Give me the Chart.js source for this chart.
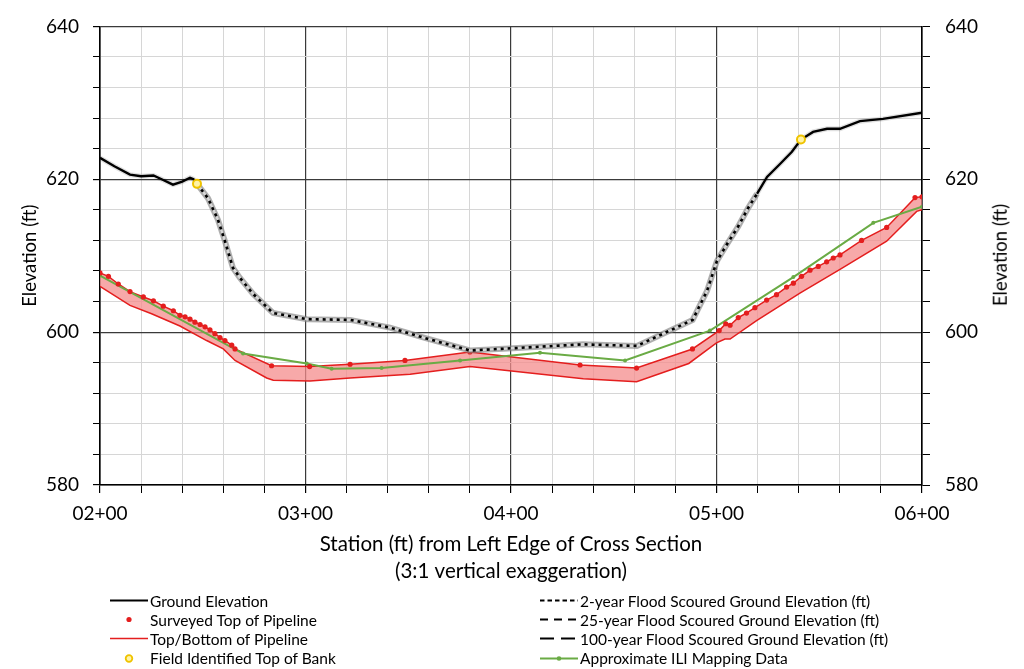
<!DOCTYPE html>
<html>
<head>
<meta charset="utf-8">
<script src="https://cdn.jsdelivr.net/npm/chart.js@4.4.1/dist/chart.umd.min.js"></script>
<style>
  html, body { margin: 0; padding: 0; background: #fff; }
  #wrap { position: relative; width: 1024px; height: 669px; overflow: hidden; font-family: Lato, "Open Sans", sans-serif; }
  #c { position: absolute; left: 0; top: 0; }
  .lg { position: absolute; height: 19px; display: flex; align-items: center; font-size: 15.5px; color: #000; white-space: nowrap; }
  .lg svg { flex: none; }
  #rtitle { position: absolute; left: 1000px; top: 255px; width: 0; height: 0; }
  #rtitle span { position: absolute; transform: translate(-50%, -50%) rotate(-90deg); white-space: nowrap; font-size: 18.5px; color: #000; line-height: 1; }
</style>
</head>
<body>
<div id="wrap">
  <canvas id="c" width="1024" height="669"></canvas>
  <div id="rtitle"><span id="rtitleText"></span></div>
  <div id="legend"></div>
</div>
<script>
// ---------- DATA ----------
const groundStations = [200, 207, 214.6, 220, 226, 230, 235.5, 240, 243.8, 245.5, 247.2,
  252.6, 257.4, 260.8, 264.7, 268.1, 274.5, 284.2, 300.7, 321.7, 341.1, 357.2, 380.0, 401.0, 435.0, 461.3,
  488.4, 495.4, 500.2, 505.1, 510.5, 515.3, 519.7, 524.6, 530.9, 536.7, 541.1,
  547, 553.8, 560.1, 569.8, 581.0, 600];
const groundElev = [622.8, 621.7, 620.6, 620.4, 620.5, 620.0, 619.3, 619.7, 620.2, 620.0, 619.4,
  617.5, 614.7, 611.9, 608.4, 607.1, 605.0, 602.5, 601.7, 601.6, 600.6, 599.3, 597.6, 597.9, 598.4, 598.2,
  601.6, 605.4, 609.3, 611.5, 613.8, 616.2, 618.1, 620.3, 622.0, 623.6, 625.2,
  626.2, 626.6, 626.6, 627.6, 627.9, 628.7];

const scourStations = [247.2, 252.6, 257.4, 260.8, 264.7, 268.1, 274.5, 284.2, 300.7, 321.7, 341.1, 357.2,
  380.0, 401.0, 435.0, 461.3, 488.4, 495.4, 500.2, 505.1, 510.5, 515.3, 519.7];
const scour2yr = [619.4, 617.5, 614.7, 611.9, 608.4, 607.1, 605.0, 602.5, 601.7, 601.6, 600.6, 599.3,
  597.6, 597.9, 598.4, 598.2, 601.6, 605.4, 609.3, 611.5, 613.8, 616.2, 618.1];
const scour25yr = [619.4, 617.5, 614.7, 611.9, 608.4, 607.1, 605.0, 602.5, 601.7, 601.6, 600.6, 599.3,
  597.6, 597.9, 598.4, 598.2, 601.6, 605.4, 609.3, 611.5, 613.8, 616.2, 618.1];
const scour100yr = [619.4, 617.5, 614.7, 611.9, 608.4, 607.1, 605.0, 602.5, 601.7, 601.6, 600.6, 599.3,
  597.6, 597.9, 598.4, 598.2, 601.6, 605.4, 609.3, 611.5, 613.8, 616.2, 618.1];

const surveyStations = [200, 204.1, 208.9, 214.6, 221.1, 226.0, 230.8, 235.7, 238.9, 241.4, 243.8, 246.2,
  248.7, 251.1, 253.5, 255.9, 258.4, 260.8, 264.1, 265.7, 283.5, 302.0, 321.7, 348.4, 380.0, 433.6, 461.1,
  488.3, 501.3, 504.5, 506.6, 510.6, 514.6, 518.7, 524.4, 529.2, 534.1, 537.4, 541.4, 545.5, 549.5, 553.6,
  556.8, 560.1, 570.6, 582.8, 596.6, 600];
const surveyTop = [607.75, 607.3, 606.3, 605.3, 604.6, 604.1, 603.4, 602.8, 602.2, 602.0, 601.7, 601.3,
  601.0, 600.7, 600.3, 599.8, 599.3, 598.9, 598.3, 597.8, 595.6, 595.5, 595.8, 596.3, 597.4, 595.7, 595.3,
  597.8, 600.2, 601.1, 600.9, 601.9, 602.5, 603.2, 604.2, 604.9, 605.9, 606.4, 607.3, 608.1, 608.6, 609.2,
  609.7, 610.1, 612.0, 613.7, 617.6, 617.7];

const bottomStations = [200, 214.6, 225.1, 238.9, 251.9, 260.0, 265.7, 281.1, 284.3, 302.2, 321.7, 350.9,
  380.0, 435.2, 461.1, 486.5, 500.0, 504.1, 506.6, 519.5, 540.6, 560.1, 582.8, 597.4, 600];
const bottomElev = [606.0, 603.5, 602.4, 600.8, 598.9, 597.8, 596.3, 594.0, 593.7, 593.6, 594.0, 594.5,
  595.5, 593.9, 593.5, 595.9, 598.6, 599.1, 599.1, 601.5, 605.1, 608.2, 611.9, 615.8, 616.0];

const bankStations = [247.2, 541.1];
const bankElev = [619.4, 625.2];

const iliStations = [200, 269.6, 300.6, 312.7, 337.0, 375.2, 414.1, 455.5, 496.8, 537.4, 576.3, 600];
const iliElev = [607.4, 597.2, 595.9, 595.2, 595.3, 596.3, 597.3, 596.3, 600.2, 607.2, 614.3, 616.4];

const xTitle = ['Station (ft) from Left Edge of Cross Section', '(3:1 vertical exaggeration)'];
const yTitle = 'Elevation (ft)';
const labels = {
  ground: 'Ground Elevation',
  survey: 'Surveyed Top of Pipeline',
  pipe: 'Top/Bottom of Pipeline',
  bank: 'Field Identified Top of Bank',
  s2: '2-year Flood Scoured Ground Elevation (ft)',
  s25: '25-year Flood Scoured Ground Elevation (ft)',
  s100: '100-year Flood Scoured Ground Elevation (ft)',
  ili: 'Approximate ILI Mapping Data'
};

// ---------- helpers ----------
const pts = (xs, ys) => xs.map((x, i) => ({ x: x, y: ys[i] }));
const fmtStation = v => String(Math.floor(v / 100)).padStart(2, '0') + '+' + String(v % 100).padStart(2, '0');

Chart.defaults.font.family = 'Lato, "Open Sans", sans-serif';
Chart.defaults.color = '#000';

const RED = '#e41e1e';
const datasets = [
  { key: 'bank', label: labels.bank, data: pts(bankStations, bankElev), showLine: false,
    pointRadius: 4, pointBorderWidth: 2, pointBorderColor: '#efc300', pointBackgroundColor: '#fff3a6', order: 0 },
  { key: 's2', label: labels.s2, data: pts(scourStations, scour2yr), borderColor: '#000', borderWidth: 2.6,
    borderDash: [3, 4], pointRadius: 0, order: 1 },
  { key: 's25', label: labels.s25, data: pts(scourStations, scour25yr), borderColor: '#d8d8d8', borderWidth: 2.6,
    pointRadius: 0, order: 2 },
  { key: 's100', label: labels.s100, data: pts(scourStations, scour100yr), borderColor: 'rgba(135,135,135,0.6)', borderWidth: 6,
    pointRadius: 0, order: 3 },
  { key: 'ground', label: labels.ground, data: pts(groundStations, groundElev), borderColor: '#000', borderWidth: 2.4,
    pointRadius: 0, order: 4 },
  { key: 'groundShadow', label: 'shadow', data: pts(groundStations, groundElev), borderColor: 'rgba(0,0,0,0.12)', borderWidth: 5,
    pointRadius: 0, order: 4.5 },
  { key: 'survey', label: labels.survey, data: pts(surveyStations, surveyTop), showLine: false,
    pointRadius: 2.6, pointBorderWidth: 0, pointBackgroundColor: RED, order: 5 },
  { key: 'ili', label: labels.ili, data: pts(iliStations, iliElev), borderColor: '#6aab45', borderWidth: 2,
    pointRadius: 2, pointBackgroundColor: '#6aab45', pointBorderWidth: 0, order: 6 },
  { key: 'pipe', label: labels.pipe, data: pts(surveyStations, surveyTop), borderColor: RED, borderWidth: 1.5,
    pointRadius: 0, order: 7 },
  { key: 'pipeBottom', label: 'Bottom of Pipeline', data: pts(bottomStations, bottomElev), borderColor: RED, borderWidth: 1.5,
    pointRadius: 0, fill: 8, backgroundColor: 'rgba(244,140,140,0.75)', order: 8 }
];
datasets.forEach(d => { d.tension = 0; d.yAxisID = 'y'; d.xAxisID = 'x'; });

const majorGrid = '#3a3a3a', minorGrid = '#d6d6d6';

const chart = new Chart(document.getElementById('c'), {
  type: 'line',
  data: { datasets: datasets },
  options: {
    responsive: false,
    animation: false,
    layout: { padding: { top: 24, bottom: 84, left: 0, right: 0 } },
    plugins: { legend: { display: false }, tooltip: { enabled: false } },
    scales: {
      x: {
        type: 'linear', min: 200, max: 600,
        ticks: { stepSize: 20, autoSkip: false, maxRotation: 0, padding: 9,
          font: { size: 19 }, callback: v => (v % 100 === 0 ? fmtStation(v) : '') },
        grid: { color: c => (c.tick && c.tick.value % 100 === 0 ? majorGrid : minorGrid),
          lineWidth: c => (c.tick && c.tick.value % 100 === 0 ? 1.2 : 1),
          tickColor: '#000', tickLength: 8 },
        border: { color: '#000', width: 1.6 },
        title: { display: true, text: xTitle, font: { size: 20.5, lineHeight: 1.32 }, padding: { top: 0, bottom: 0 } },
        afterFit: s => { s.height = 100; }
      },
      y: {
        type: 'linear', position: 'left', min: 580, max: 640,
        ticks: { stepSize: 4, autoSkip: false, padding: 14, font: { size: 19 },
          callback: v => (v % 20 === 0 ? String(v) : '') },
        grid: { color: c => (c.tick && c.tick.value % 20 === 0 ? majorGrid : minorGrid),
          lineWidth: c => (c.tick && c.tick.value % 20 === 0 ? 1.2 : 1),
          tickColor: '#000', tickLength: 7 },
        border: { color: '#000', width: 1.6 },
        title: { display: true, text: yTitle, font: { size: 18.5 }, padding: { top: 19, bottom: 0 } },
        afterFit: s => { s.width = 100; }
      },
      y2: {
        type: 'linear', position: 'right', min: 580, max: 640,
        ticks: { stepSize: 4, autoSkip: false, padding: 15, font: { size: 19 },
          callback: v => (v % 20 === 0 ? String(v) : '') },
        grid: { drawOnChartArea: false, tickColor: '#000', tickLength: 8 },
        border: { color: '#000', width: 1.6 },
        title: { display: false, text: yTitle },
        afterFit: s => { s.width = 102; }
      }
    }
  }
});

// right-hand axis title, reading bottom-to-top like the reference
document.getElementById('rtitleText').textContent = chart.options.scales.y2.title.text;

// ---------- HTML legend (two columns, as in the reference) ----------
const symbols = {
  ground: '<line x1="0" y1="9.5" x2="38" y2="9.5" stroke="#000" stroke-width="2"/>',
  survey: '<circle cx="19" cy="9.5" r="2.6" fill="' + RED + '"/>',
  pipe: '<line x1="0" y1="9.5" x2="38" y2="9.5" stroke="' + RED + '" stroke-width="1.5"/>',
  bank: '<circle cx="19" cy="9.5" r="3.3" fill="#fff3a6" stroke="#efc300" stroke-width="1.8"/>',
  s2: '<line x1="0" y1="9.5" x2="38" y2="9.5" stroke="#000" stroke-width="2" stroke-dasharray="4.5,3"/>',
  s25: '<line x1="0" y1="9.5" x2="38" y2="9.5" stroke="#000" stroke-width="2" stroke-dasharray="8,6"/>',
  s100: '<line x1="0" y1="9.5" x2="38" y2="9.5" stroke="#000" stroke-width="2.2" stroke-dasharray="14,7"/>',
  ili: '<line x1="0" y1="9.5" x2="38" y2="9.5" stroke="#6aab45" stroke-width="2"/><circle cx="19" cy="9.5" r="2.3" fill="#6aab45"/>'
};
const legendLeft = ['ground', 'survey', 'pipe', 'bank'];
const legendRight = ['s2', 's25', 's100', 'ili'];
const rowTops = [591, 610, 629, 648.5];
const lg = document.getElementById('legend');
function addItem(key, left, top) {
  const ds = chart.data.datasets.find(d => d.key === key);
  const el = document.createElement('div');
  el.className = 'lg';
  el.style.left = left + 'px';
  el.style.top = top + 'px';
  el.innerHTML = '<svg width="40" height="19" viewBox="0 0 40 19">' + symbols[key] + '</svg><span>' + ds.label + '</span>';
  lg.appendChild(el);
}
legendLeft.forEach((k, i) => addItem(k, 110, rowTops[i]));
legendRight.forEach((k, i) => addItem(k, 540, rowTops[i]));
</script>
</body>
</html>
